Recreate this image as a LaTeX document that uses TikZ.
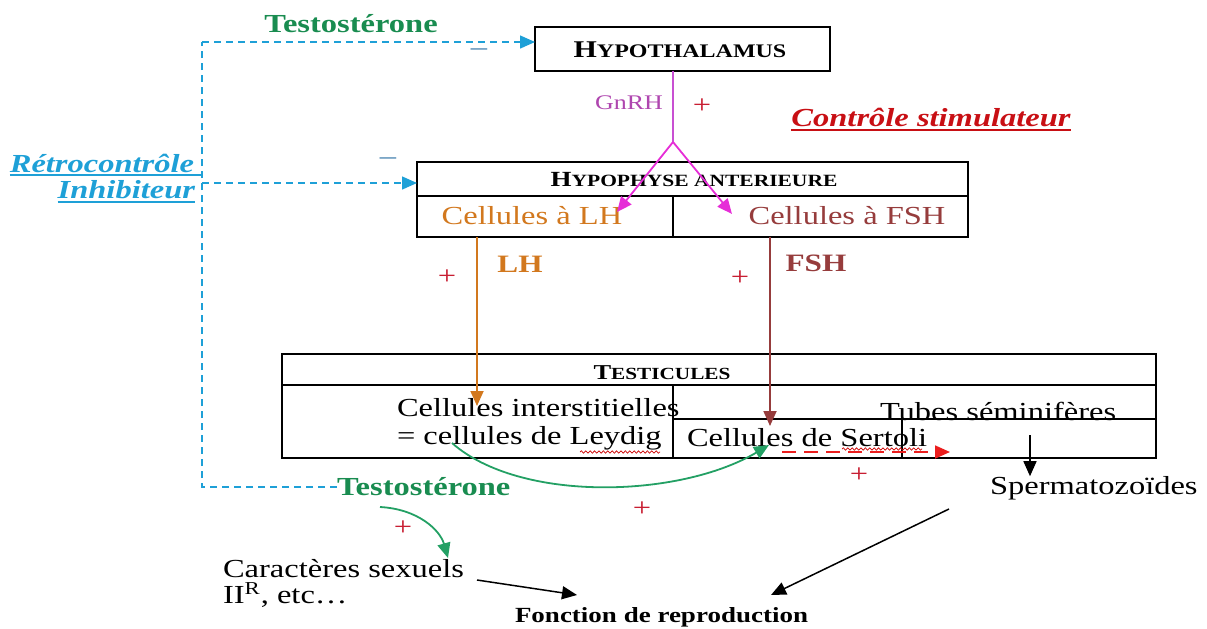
\documentclass[tikz,border=0pt]{standalone}
\usepackage{fontspec}
\setmainfont{Liberation Serif}[FakeStretch=1.25]
\usetikzlibrary{arrows.meta,decorations.pathmorphing}
\definecolor{fbc}{RGB}{30,160,215}
\definecolor{minusc}{RGB}{70,130,175}
\definecolor{testoc}{RGB}{25,140,80}
\definecolor{arcc}{RGB}{35,160,100}
\definecolor{gnrhtxt}{RGB}{175,70,175}
\definecolor{gnrhline}{RGB}{200,80,210}
\definecolor{magc}{RGB}{230,45,215}
\definecolor{lhc}{RGB}{210,120,30}
\definecolor{fshc}{RGB}{150,60,60}
\definecolor{plusc}{RGB}{200,30,50}
\definecolor{stimc}{RGB}{200,15,20}
\definecolor{redarr}{RGB}{235,30,30}
\newcommand{\fsz}[1]{\fontsize{#1pt}{#1pt}\selectfont}
\newcommand{\smcap}[4]{{\fsz{#1}#3}{\fsz{#2}#4}}
\begin{document}
\begin{tikzpicture}[x=0.5pt,y=-0.5pt,
  txt/.style={inner sep=0pt,outer sep=0pt,font=\fsz{13}},
  cell/.style={draw=black,line width=0.9pt,inner sep=0pt,outer sep=0pt},
  fb/.style={draw=fbc,line width=0.75pt,dash pattern=on 3.5pt off 2.5pt},
  tip/.style={-{Triangle[length=7.5pt,width=6.5pt]}},
  plus/.style={txt,text=plusc},
  minus/.style={txt,text=minusc},
  blk/.style={draw=black,line width=0.75pt,tip}]
\useasboundingbox (0,0) rectangle (1207,628);

% ---------- boxes ----------
\node[cell,minimum width=147.5pt,minimum height=22pt] (hyp) at (682.5,49) {};
\node[txt,font=\bfseries] (hyptxt) at (680,50) {\smcap{12}{9.6}{H}{YPOTHALAMUS}};

\node[cell,minimum width=275.5pt,minimum height=17pt] (hph) at (692.5,179) {};
\node[cell,minimum width=128pt,minimum height=20.5pt] (cLH) at (545,216.5) {};
\node[cell,minimum width=147.5pt,minimum height=20.5pt] (cFSH) at (820.5,216.5) {};
\node[txt,font=\bfseries] (hphtxt) at (694,180) {\smcap{10.8}{8.6}{H}{YPOPHYSE ANTERIEURE}};
\node[txt,text=lhc] (tLH) at (532,216) {Cellules à LH};
\node[txt,text=fshc] (tFSH) at (847,216) {Cellules à FSH};

\node[cell,minimum width=437pt,minimum height=15.5pt] (tes) at (719,369.5) {};
\node[cell,minimum width=195.5pt,minimum height=36.5pt] (cLey) at (477.5,421.5) {};
\node[cell,minimum width=241.5pt,minimum height=17pt] (cTub) at (914.5,402) {};
\node[cell,minimum width=114.5pt,minimum height=19.5pt] (cSer) at (787.5,438.5) {};
\node[cell,minimum width=127pt,minimum height=19.5pt] (cR) at (1029,438.5) {};
\node[txt,font=\bfseries] (testxt) at (662,373) {\smcap{10.6}{8.5}{T}{ESTICULES}};
\node[txt,anchor=west,align=left,font=\fontsize{13pt}{14pt}\selectfont] (ley) at (397,424) {Cellules interstitielles\\= cellules de Leydig};
\node[txt,anchor=west] (tub) at (880,411) {Tubes séminifères};
\node[txt,anchor=west] (ser) at (687,438) {Cellules de Sertoli};

% ---------- free texts ----------
\node[txt,font=\fsz{13}\bfseries,text=testoc] (testoT) at (351,24) {Testostérone};
\node[txt,font=\fsz{13}\bfseries,text=testoc,anchor=west] (testoB) at (337,487) {Testostérone};
\node[txt,font=\fsz{13}\bfseries\itshape,text=fbc,anchor=east] (retro) at (194,163) {Rétrocontrôle};
\node[txt,font=\fsz{13}\bfseries\itshape,text=fbc,anchor=east] (inhib) at (195,190) {Inhibiteur};
\node[txt,font=\fsz{13}\bfseries\itshape,text=stimc] (stim) at (931,117) {Contrôle stimulateur};
\node[txt,font=\fsz{10.4},text=gnrhtxt] (gnrh) at (629,103) {GnRH};
\node[txt,font=\fsz{12.5}\bfseries,text=lhc] (lh) at (520,264) {LH};
\node[txt,font=\fsz{12.5}\bfseries,text=fshc] (fsh) at (816,263) {FSH};
\node[txt,anchor=west] (sperm) at (990,488) {Spermatozoïdes};
\node[txt,anchor=west,align=left,font=\fontsize{13pt}{13pt}\selectfont] (car) at (223,583) {Caractères sexuels\\II\textsuperscript{R}, etc\dots};
\node[txt,font=\fsz{10.8}\bfseries,anchor=west] (fonc) at (515,617) {Fonction de reproduction};

\node[plus] (p1) at (702,106) {+};
\node[plus] (p2) at (447,277) {+};
\node[plus] (p3) at (740,278) {+};
\node[plus] (p4) at (859,475) {+};
\node[plus] (p5) at (642,509) {+};
\node[plus] (p6) at (403,528) {+};
\node[minus] (m1) at (479,52) {–};
\node[minus] (m2) at (388,161) {–};

% underlines
\draw[stimc,line width=0.9pt] (stim.south west) ++(0,4) coordinate (su1) -- (su1 -| stim.south east);
\coordinate (fbM) at (202,183);
\draw[fbc,line width=0.8pt] (retro.south west) ++(0,3) coordinate (ru1) -- (ru1 -| fbM);
\draw[fbc,line width=0.8pt] (inhib.south west) ++(0,3) coordinate (iu1) -- (iu1 -| inhib.south east);

% spell-check wavy underlines
\coordinate (wl1) at (580,452); \coordinate (wl2) at (660,452);
\coordinate (ws1) at (842,449); \coordinate (ws2) at (922,449);
\draw[red!80!black,line width=0.35pt,decorate,decoration={snake,amplitude=0.6pt,segment length=2.2pt}] (wl1) -- (wl2);
\draw[red!80!black,line width=0.35pt,decorate,decoration={snake,amplitude=0.6pt,segment length=2.2pt}] (ws1) -- (ws2);

% ---------- feedback (dashed cyan) ----------
\coordinate (fbT) at (202,42);
\coordinate (fbB) at (202,487);
\draw[fb] (testoB.west) -- (fbB) -- (fbT);
\draw[fb,tip,fbc] (fbT) -- (fbT -| hyp.west);
\draw[fb,tip,fbc] (fbM) -- (fbM -| hph.west);

% ---------- GnRH ----------
\coordinate (spl) at (673,142);
\coordinate (gL) at (617,212);
\coordinate (gF) at (732,214);
\draw[gnrhline,line width=0.9pt] (spl |- hyp.south) -- (spl);
\draw[magc,line width=0.9pt,tip] (spl) -- (gL);
\draw[magc,line width=0.9pt,tip] (spl) -- (gF);

% ---------- LH / FSH ----------
\coordinate (lhE) at (477,406);
\coordinate (fshE) at (770,426);
\draw[lhc,line width=0.9pt,tip] (lhE |- cLH.south) -- (lhE);
\draw[fshc,line width=0.9pt,tip] (fshE |- cFSH.south) -- (fshE);

% ---------- testosterone arc ----------
\coordinate (gs) at (452,443);
\coordinate (ge) at (769,445);
\draw[arcc,line width=0.9pt,tip] (gs) .. controls (520,503) and (680,498) .. (ge);

% red dashed arrow
\coordinate (rs) at (782,452);
\coordinate (re) at (950,452);
\draw[redarr,line width=0.9pt,dash pattern=on 7pt off 4pt,tip] (rs) -- (re);

% testosterone -> caracteres
\coordinate (ts) at (380,507);
\coordinate (te) at (448,558);
\draw[arcc,line width=0.9pt,tip] (ts) .. controls (418,509) and (440,530) .. (te);

% black arrows
\coordinate (sp1) at (1030,435);
\draw[blk] (sp1) -- (sp1 |- sperm.north);
\coordinate (sa) at (949,509);
\coordinate (sb) at (771,595);
\draw[blk] (sa) -- (sb);
\coordinate (ca) at (477,580);
\coordinate (cb) at (577,595);
\draw[blk] (ca) -- (cb);
\end{tikzpicture}
\end{document}
